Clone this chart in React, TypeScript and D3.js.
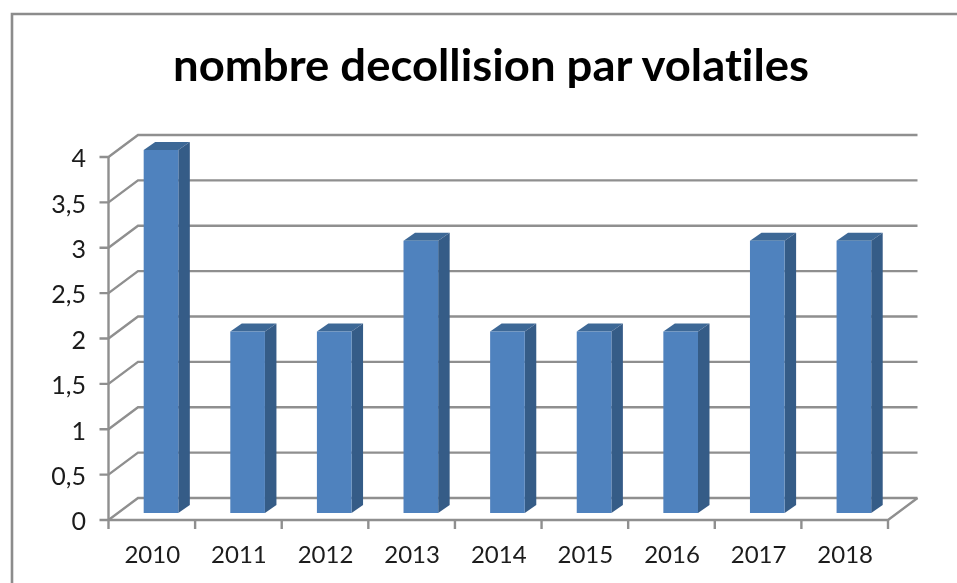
import React, { useRef, useEffect } from "react";
import * as d3 from "d3";

const years = ["2010", "2011", "2012", "2013", "2014", "2015", "2016", "2017", "2018"];
const counts = [4, 2, 2, 3, 2, 2, 2, 3, 3];
const yTicks = [0, 0.5, 1, 1.5, 2, 2.5, 3, 3.5, 4];
const titleText = "nombre decollision par volatiles";

const width = 957;
const height = 583;
const axisColor = "#8f8f8f";
const depth = { x: 29.5, y: -22 };
const barShift = { x: 9.2, y: -7 };
const barDepth = { x: 11.5, y: -8 };

const App = () => {
  const ref = useRef<SVGSVGElement>(null);

  useEffect(() => {
    const svg = d3.select(ref.current);
    svg.selectAll("*").remove();

    svg.append("defs").append("filter").attr("id", "soft")
      .attr("filterUnits", "userSpaceOnUse")
      .attr("x", 0).attr("y", 0).attr("width", width).attr("height", height)
      .append("feGaussianBlur").attr("stdDeviation", 0.6);

    const root = svg.append("g").attr("filter", "url(#soft)");

    const x = d3.scaleBand().domain(years).range([108.5, 888]).paddingInner(0.6).paddingOuter(0.3);
    const y = d3.scaleLinear().domain([0, 4]).range([520, 157]);
    const step = x.step();

    // outer frame, only top and left are visible
    root.append("path")
      .attr("d", `M12,590V14H965`)
      .attr("fill", "none")
      .attr("stroke", "#8c8c8c")
      .attr("stroke-width", 2.6);

    root.append("text")
      .attr("x", 491)
      .attr("y", 81)
      .attr("text-anchor", "middle")
      .attr("font-family", "Lato, 'Open Sans', sans-serif")
      .attr("font-weight", 700)
      .attr("font-size", 44)
      .attr("textLength", 636)
      .attr("lengthAdjust", "spacingAndGlyphs")
      .style("font-variant-ligatures", "none")
      .attr("fill", "#000")
      .text(titleText);

    const [x0, x1] = x.range();

    // walls: side diagonal + back line for each tick
    const grid = root.append("g").attr("fill", "none").attr("stroke", axisColor).attr("stroke-width", 2.4);
    yTicks.forEach((t) => {
      grid.append("path").attr(
        "d",
        `M${x0 - 9},${y(t)}H${x0}L${x0 + depth.x},${y(t) + depth.y}H${x1 + depth.x}`
      );
    });
    grid.append("path").attr("d", `M${x0},${y(4)}V${y(0)}`);
    grid.append("path").attr(
      "d",
      `M${x0},${y(0)}H${x1}L${x1 + depth.x},${y(0) + depth.y}`
    );
    d3.range(years.length + 1).forEach((i) => {
      grid.append("path").attr("d", `M${x0 + i * step},${y(0)}V${y(0) + 9}`);
    });

    const bars = root.append("g").selectAll("g").data(years).join("g");
    bars.each(function (year, i) {
      const g = d3.select(this);
      const left = x(year)! + barShift.x;
      const right = left + x.bandwidth();
      const top = y(counts[i]) + barShift.y;
      const bottom = y(0) + barShift.y;
      g.append("path")
        .attr("d", `M${left},${top}l${barDepth.x},${barDepth.y}H${right + barDepth.x}L${right},${top}Z`)
        .attr("fill", "#3e6896");
      g.append("path")
        .attr("d", `M${right},${top}l${barDepth.x},${barDepth.y}V${bottom + barDepth.y}L${right},${bottom}Z`)
        .attr("fill", "#365b87");
      g.append("rect")
        .attr("x", left)
        .attr("y", top)
        .attr("width", x.bandwidth())
        .attr("height", bottom - top)
        .attr("fill", "#5082be");
    });

    const labelFont = "Lato, 'Open Sans', sans-serif";

    root.append("g").selectAll("text").data(years).join("text")
      .attr("x", (d) => x(d)! + x.bandwidth() / 2 + 0.5)
      .attr("y", 563)
      .attr("text-anchor", "middle")
      .attr("font-family", labelFont)
      .attr("font-size", 24)
      .attr("fill", "#1a1a1a")
      .text((d) => d);

    root.append("g").selectAll("text").data(yTicks).join("text")
      .attr("x", 86)
      .attr("y", (d) => y(d) + 1.5)
      .attr("dy", "0.35em")
      .attr("text-anchor", "end")
      .attr("font-family", labelFont)
      .attr("font-size", 25)
      .attr("fill", "#1a1a1a")
      .text((d) => String(d).replace(".", ","));
  }, []);

  return (
    <svg
      ref={ref}
      width={width}
      height={height}
      viewBox={`0 0 ${width} ${height}`}
      style={{ position: "absolute", left: 0, top: 0, background: "#fff" }}
    />
  );
};

export default App;
